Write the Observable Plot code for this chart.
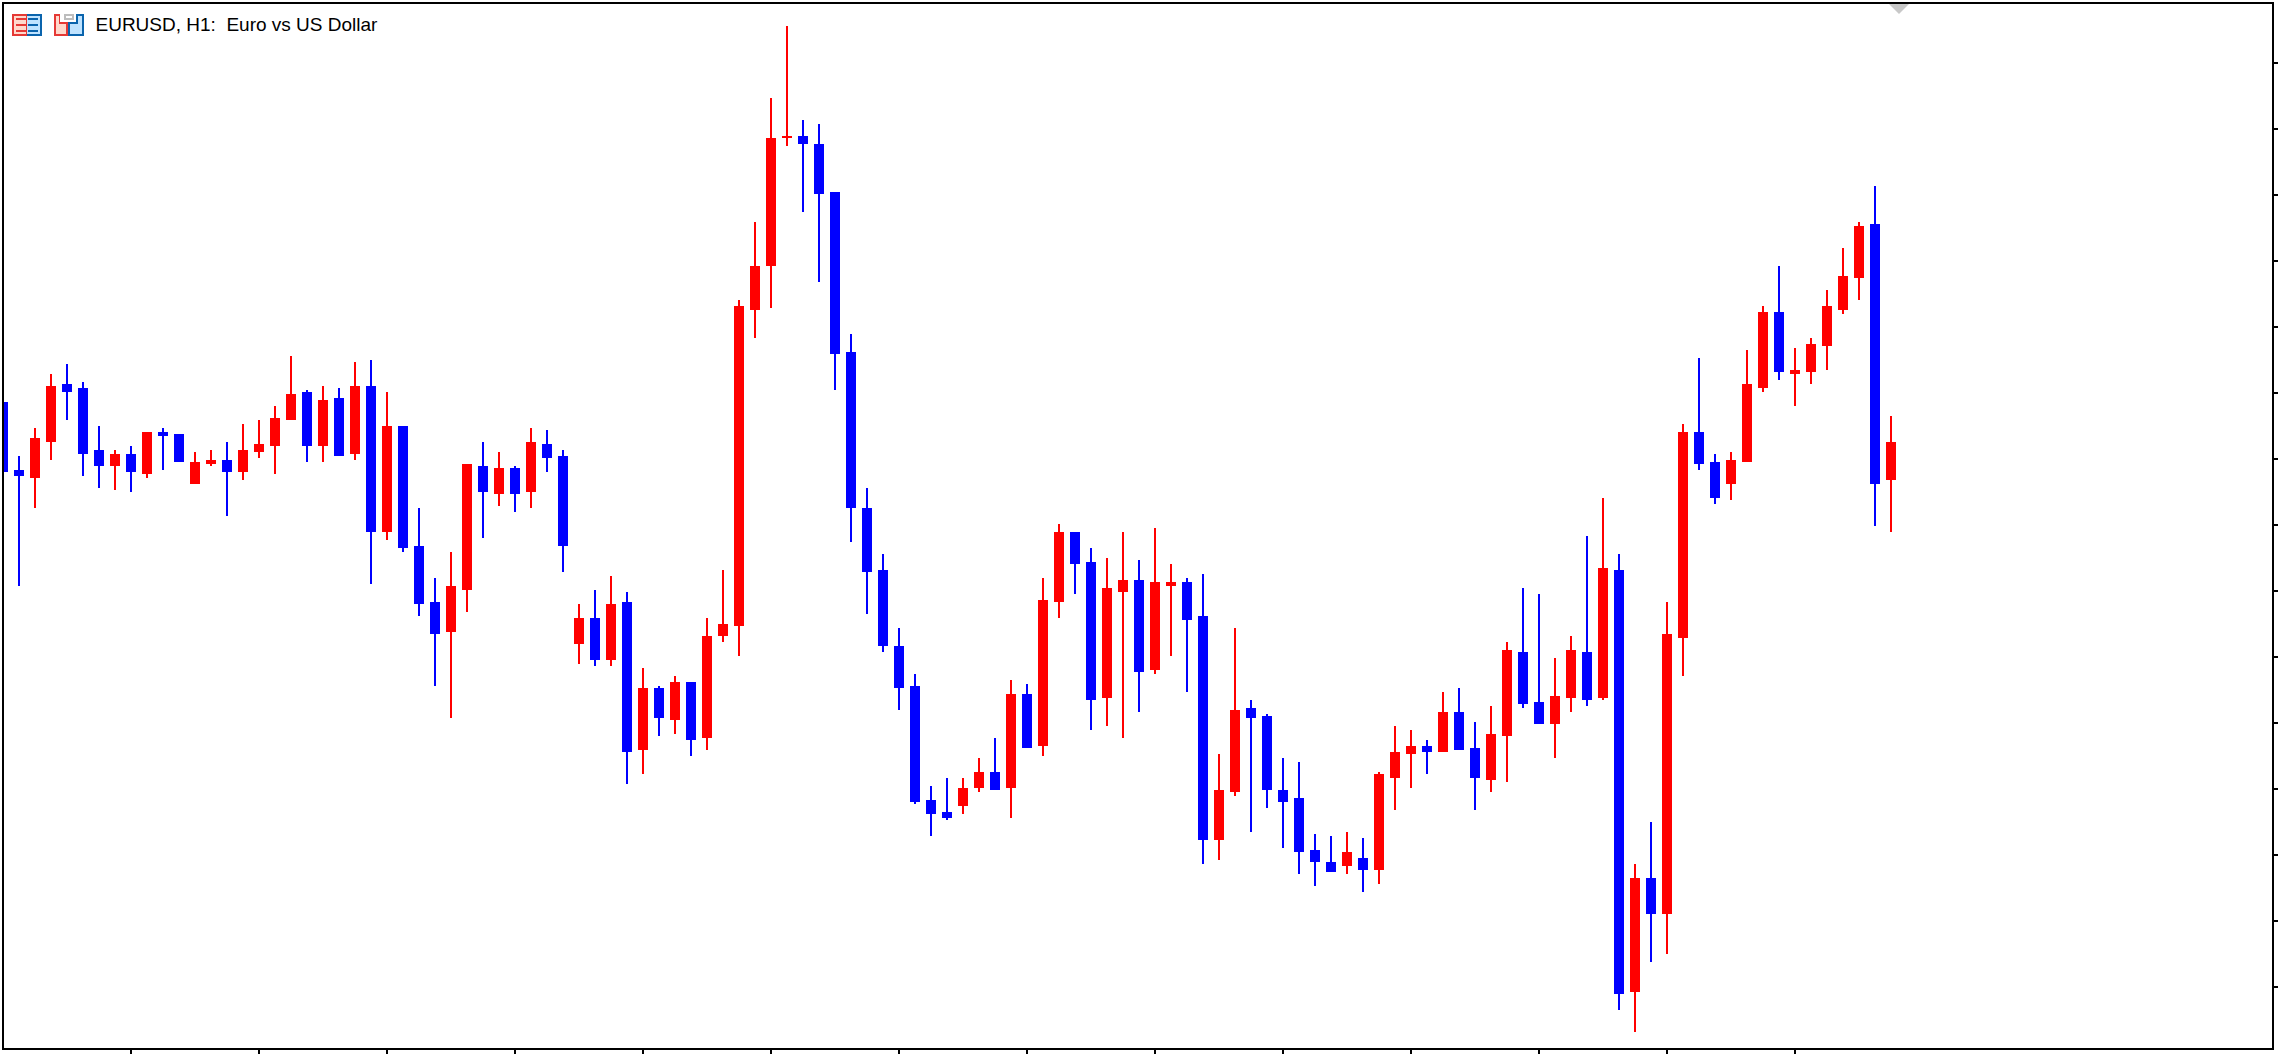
<!DOCTYPE html>
<html>
<head>
<meta charset="utf-8">
<script src="https://cdn.jsdelivr.net/npm/d3@7"></script>
<script src="https://cdn.jsdelivr.net/npm/@observablehq/plot@0.6"></script>
<style>
  html, body { margin: 0; padding: 0; background: #fff; overflow: hidden; }
  #wrap { position: relative; width: 2278px; height: 1054px; }
  #wrap svg.plot { display: block; }
  .overlay { position: absolute; left: 0; top: 0; pointer-events: none; }
</style>
</head>
<body>
<div id="wrap"></div>
<script>
const chartTitle = "EURUSD, H1:  Euro vs US Dollar";

// Quotes, in points above the base price (1 point = 0.00001)
const basePrice = 1.1;
const pointSize = 0.00001;

const openPts = [644,576,568,604,662,658,596,580,592,572,614,612,562,582,586,574,594,600,626,654,600,648,592,660,514,620,500,444,414,456,580,552,578,554,602,590,402,428,386,444,296,358,326,364,308,410,420,736,780,908,910,902,854,694,538,476,400,360,246,234,240,258,274,258,352,300,444,514,484,348,454,466,376,460,464,430,206,254,338,330,256,248,196,184,180,188,176,268,292,300,294,334,298,266,310,394,344,322,348,394,348,476,54,168,132,408,614,584,562,584,658,734,672,674,700,736,768,822,566];
const highPts = [644,590,618,672,682,664,620,596,600,614,618,612,594,596,604,622,626,640,690,656,660,658,684,686,654,620,538,468,494,582,604,594,580,618,616,596,442,456,470,454,378,360,370,364,428,476,746,824,948,1020,926,922,854,712,558,492,418,372,260,268,268,288,308,366,362,468,522,514,498,488,514,486,518,482,468,472,292,418,346,332,288,284,212,210,214,208,274,320,316,306,354,358,324,340,404,458,452,388,410,510,548,492,182,224,444,622,688,592,594,696,740,780,698,708,756,798,824,860,630];
const lowPts = [574,460,538,586,626,570,558,556,554,568,576,584,562,580,530,566,588,572,626,584,584,590,586,462,506,494,430,360,328,434,508,540,534,538,574,474,382,380,380,262,272,310,312,290,296,404,390,708,738,900,834,764,656,504,432,394,336,242,210,226,232,254,256,228,298,290,428,452,316,320,308,334,372,390,354,182,186,250,214,238,198,172,160,174,172,154,162,236,258,272,294,296,236,254,264,338,322,288,334,340,346,36,14,84,92,370,576,542,546,584,654,666,640,662,676,732,746,520,514];
const closePts = [574,570,608,660,654,592,580,592,574,614,610,584,584,586,574,596,602,628,652,600,646,590,660,514,620,498,442,412,460,582,554,578,552,604,588,500,428,386,442,294,358,328,364,306,410,422,740,780,908,910,902,852,692,538,474,400,358,244,232,228,258,274,256,352,298,446,514,482,346,458,466,374,464,464,426,206,256,336,328,256,244,194,184,174,194,176,272,294,300,294,334,296,268,312,396,342,322,350,396,346,478,52,168,132,412,614,582,548,586,662,734,674,676,702,740,770,820,562,604];

// Tick positions on the two axes (bar numbers, price points); the reference prints no labels
const barTicks = [8,16,24,32,40,48,56,64,72,80,88,96,104,112];
const priceTickPts = [983,917,851,785,719,653,587,521,455,389,323,257,191,125,59];

const bullColor = "#ff0000";
const bearColor = "#0000ff";

const price = p => basePrice + p * pointSize;
const candles = openPts.map((o, i) => ({
  bar: i,
  open: price(o),
  high: price(highPts[i]),
  low: price(lowPts[i]),
  close: price(closePts[i]),
  color: closePts[i] > o ? bullColor : bearColor
}));

const chart = Plot.plot({
  width: 2278,
  height: 1054,
  marginTop: 3,
  marginLeft: 3,
  marginRight: 5,
  marginBottom: 5,
  style: { background: "#fff", overflow: "visible" },
  x: { type: "linear", domain: [0, 141.875], range: [3, 2273], axis: null },
  y: { type: "linear", domain: [price(-3), price(1043)], range: [1049, 3], axis: null },
  color: { type: "identity" },
  marks: [
    Plot.ruleX(candles, { x: "bar", y1: "low", y2: "high", stroke: "color", strokeWidth: 2, dx: -0.5, clip: "frame", shapeRendering: "crispEdges" }),
    Plot.ruleX(candles, { x: "bar", y1: "open", y2: "close", stroke: "color", strokeWidth: 10, dx: -0.5, clip: "frame", shapeRendering: "crispEdges" }),
    Plot.axisX(barTicks, { anchor: "bottom", tickSize: 5, tickPadding: 0, tickFormat: () => "", label: null, stroke: "#000", strokeWidth: 2, strokeOpacity: 1, dx: -0.5, shapeRendering: "crispEdges" }),
    Plot.axisY(priceTickPts.map(price), { anchor: "right", tickSize: 5, tickPadding: 0, tickFormat: () => "", label: null, stroke: "#000", strokeWidth: 2, strokeOpacity: 1, dy: -0.5, shapeRendering: "crispEdges" }),
    Plot.frame({ stroke: "#000", strokeWidth: 2, dx: -0.5, dy: -0.5, shapeRendering: "crispEdges" }),
    Plot.text([chartTitle], {
      frameAnchor: "top-left", dx: 92, dy: 14, textAnchor: "start", lineAnchor: "top",
      fontFamily: "'Liberation Sans', Arial, sans-serif", fontSize: 19, fill: "#000"
    })
  ]
});
document.getElementById("wrap").appendChild(chart);

// Window decorations of the terminal: the two icons and the chart-shift marker
const overlay = document.createElementNS("http://www.w3.org/2000/svg", "svg");
overlay.setAttribute("class", "overlay");
overlay.setAttribute("width", 2278);
overlay.setAttribute("height", 1054);
overlay.innerHTML = `
  <g shape-rendering="crispEdges">
    <rect x="12" y="14" width="15" height="22" fill="#e53935"/>
    <rect x="14" y="16" width="12" height="18" fill="#ffd9cc"/>
    <rect x="16" y="18" width="10" height="2" fill="#e53935"/>
    <rect x="16" y="24" width="10" height="2" fill="#e53935"/>
    <rect x="16" y="30" width="10" height="2" fill="#e53935"/>
    <rect x="27" y="14" width="15" height="22" fill="#0a64ad"/>
    <rect x="27" y="16" width="13" height="18" fill="#bfe3ff"/>
    <rect x="28" y="18" width="10" height="2" fill="#0a64ad"/>
    <rect x="28" y="24" width="10" height="2" fill="#0a64ad"/>
    <rect x="28" y="30" width="10" height="2" fill="#0a64ad"/>

    <rect x="54" y="14" width="6" height="22" fill="#e53935"/>
    <rect x="54" y="22" width="14" height="14" fill="#e53935"/>
    <rect x="56" y="16" width="3" height="18" fill="#ffd9cc"/>
    <rect x="56" y="24" width="10" height="10" fill="#ffd9cc"/>
    <rect x="76" y="14" width="8" height="22" fill="#0a64ad"/>
    <rect x="68" y="22" width="16" height="14" fill="#0a64ad"/>
    <rect x="78" y="16" width="4" height="18" fill="#bfe3ff"/>
    <rect x="70" y="24" width="12" height="10" fill="#bfe3ff"/>
    <rect x="64" y="14" width="10" height="6" fill="#bdbdbd"/>
    <rect x="66" y="16" width="6" height="2" fill="#fff"/>
  </g>
  <polygon points="1889,4 1909,4 1899,14" fill="#c8c8c8"/>`;
document.getElementById("wrap").appendChild(overlay);
</script>
</body>
</html>
